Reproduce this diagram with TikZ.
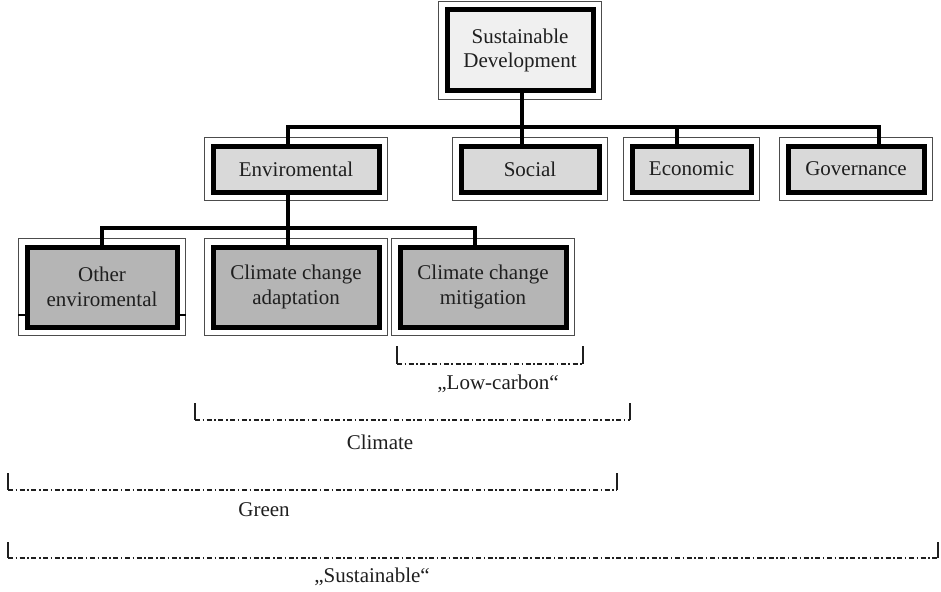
\documentclass[tikz,border=0pt]{standalone}
\usepackage{fontspec}
\setmainfont{Liberation Serif}
\usetikzlibrary{calc}
\begin{document}
\begin{tikzpicture}[x=1pt,y=-1pt,
  box/.style={draw=black, line width=5pt, inner sep=0pt, align=center,
    font=\fontsize{21}{24.5}\selectfont, text=black!88},
  topbox/.style={box, fill=black!6},
  midbox/.style={box, fill=black!15},
  lowbox/.style={box, fill=black!29},
  frame/.style={draw=black!70, line width=1.1pt},
  conn/.style={draw=black, line width=3.6pt},
  tickline/.style={draw=black!88, line width=1.3pt},
  ddline/.style={draw=black!88, line width=1.3pt, dash pattern=on 5pt off 2.6pt on 1.5pt off 2.6pt},
  lbl/.style={font=\fontsize{21}{24}\selectfont, text=black!88, inner sep=0pt}]
\useasboundingbox (0,0) rectangle (941,591);
\fill[white] (0,0) rectangle (941,591);

% boxes
\node[topbox, minimum width=146pt, minimum height=81pt] (sd) at (520,50.5) {Sustainable\\Development};
\node[midbox, minimum width=166pt, minimum height=46pt] (env) at (296,169) {Enviromental};
\node[midbox, minimum width=138pt, minimum height=46pt] (soc) at (530,169) {Social};
\node[midbox, minimum width=119pt, minimum height=46pt] (eco) at (691.5,169) {Economic};
\node[midbox, minimum width=136pt, minimum height=46pt] (gov) at (856,169) {Governance};
\node[lowbox, minimum width=150pt, minimum height=80pt] (oth) at (102,287) {Other\\enviromental};
\node[lowbox, minimum width=166pt, minimum height=80pt] (ada) at (296,287) {Climate change\\adaptation};
\node[lowbox, minimum width=166pt, minimum height=80pt] (mit) at (483,287) {Climate change\\mitigation};

% outer thin frames
\foreach \n in {sd,env,soc,eco,gov,oth,ada,mit}{
  \draw[frame] ($(\n.north west)+(-6,-6)$) rectangle ($(\n.south east)+(6,6)$);
}
% small marks beside "Other enviromental"
\draw[draw=black, line width=2pt] (18,315) -- (26,315);
\draw[draw=black, line width=2pt] (178,315) -- (186,315);

% connectors
\coordinate (t1) at (288,127);
\coordinate (t2) at (522,127);
\coordinate (t3) at (677,127);
\coordinate (t4) at (879,127);
\draw[conn] (env.north -| t1) |- (t4) -- (gov.north -| t4);
\draw[conn] (sd.south -| t2) -- (soc.north -| t2);
\draw[conn] (eco.north -| t3) -- (t3);

\coordinate (m1) at (102,228);
\coordinate (m2) at (288,228);
\coordinate (m3) at (475,228);
\draw[conn] (oth.north -| m1) |- (m3) -- (mit.north -| m3);
\draw[conn] (env.south -| m2) -- (ada.north -| m2);

% brackets
\foreach \xa/\xb/\ya/\yb in {397/583/346/364, 195/630/403/420, 8/617/473/490, 8/938/542/558}{
  \draw[tickline] (\xa,\ya) -- (\xa,\yb);
  \draw[ddline] (\xa,\yb) -- (\xb,\yb);
  \draw[tickline] (\xb,\yb) -- (\xb,\ya);
}
\node[lbl] (lc) at (498,384) {„Low-carbon“};
\node[lbl] (cl) at (380,442) {Climate};
\node[lbl] (gr) at (264,510) {Green};
\node[lbl] (su) at (372,577) {„Sustainable“};
\end{tikzpicture}
\end{document}
